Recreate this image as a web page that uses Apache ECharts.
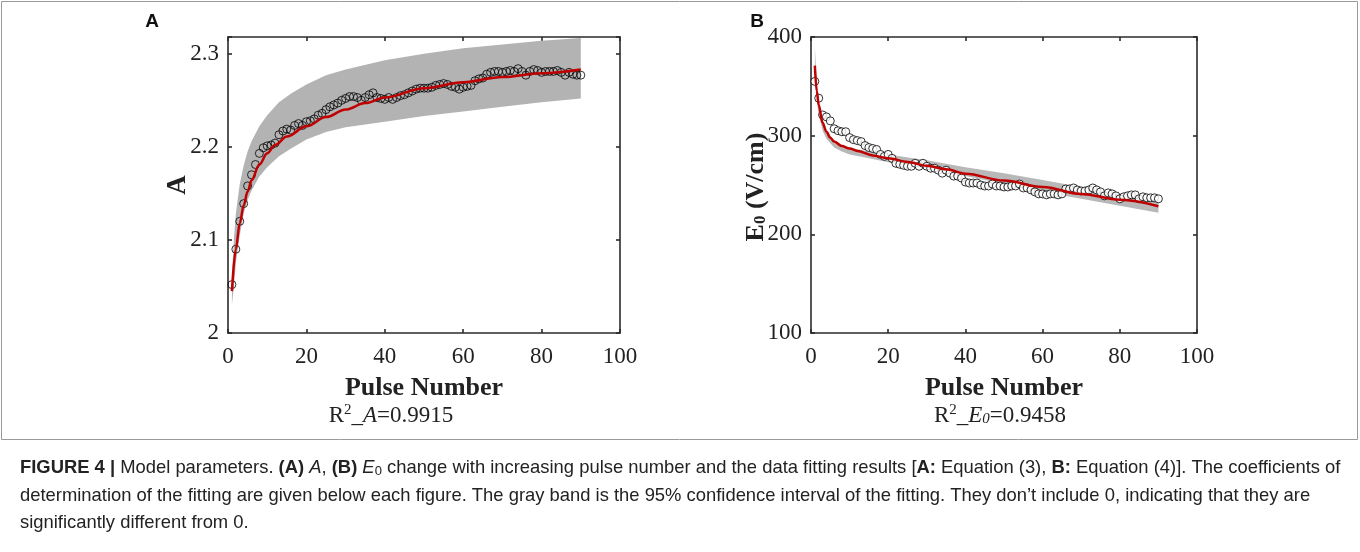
<!DOCTYPE html>
<html>
<head>
<meta charset="utf-8">
<script src="https://cdn.jsdelivr.net/npm/echarts@6/dist/echarts.min.js"></script>
<style>
html,body{margin:0;padding:0;background:#fff;}
#c{width:1360px;height:552px;}
</style>
</head>
<body>
<div id="c"></div>
<script>
// ---------- Panel A data ----------
const aValues = [
 2.052,2.090,2.120,2.139,2.158,2.170,2.181,2.193,2.199,2.201,
 2.202,2.204,2.213,2.217,2.219,2.218,2.223,2.225,2.223,2.227,
 2.228,2.230,2.234,2.236,2.240,2.243,2.245,2.247,2.250,2.252,
 2.254,2.254,2.253,2.250,2.253,2.256,2.258,2.253,2.252,2.251,
 2.253,2.251,2.253,2.255,2.256,2.258,2.260,2.262,2.263,2.263,
 2.263,2.264,2.266,2.267,2.268,2.267,2.265,2.264,2.262,2.264,
 2.265,2.266,2.271,2.273,2.274,2.278,2.280,2.281,2.281,2.280,
 2.281,2.282,2.281,2.284,2.281,2.277,2.281,2.283,2.282,2.280,
 2.281,2.281,2.281,2.282,2.280,2.277,2.280,2.278,2.277,2.277
];
const aFitX = [1,2,3,4,5,6,8,10,12,15,20,25,30,35,40,50,60,70,80,90];
const aFitY = [2.045,2.090,2.118,2.137,2.152,2.164,2.181,2.193,2.202,2.211,2.222,2.232,2.240,2.247,2.253,2.263,2.2695,2.275,2.279,2.283];
const aBandX = [1,1.5,2,3,4,5,6,8,10,13,16,20,25,30,40,50,60,70,80,90];
const aBandUpper = [2.062,2.100,2.128,2.160,2.180,2.195,2.206,2.222,2.234,2.248,2.257,2.267,2.277,2.283,2.293,2.300,2.306,2.310,2.314,2.317];
const aBandLower = [2.030,2.050,2.075,2.105,2.128,2.143,2.153,2.168,2.178,2.190,2.198,2.208,2.216,2.221,2.227,2.233,2.238,2.243,2.248,2.252];

// ---------- Panel B data ----------
const bValues = [
 355,338,321,319,315,307,305,304,304,298,
 296,295,294,290,288,287,286,281,279,281,
 277,272,271,270,269,269,272,269,272,269,
 267,267,265,262,265,262,259,259,257,253,
 252,252,252,250,249,249,251,249,249,248,
 248,249,249,251,247,247,245,243,241,241,
 240,241,241,240,241,246,246,247,245,244,
 244,245,247,245,243,239,242,241,239,236,
 238,239,240,240,236,238,237,237,237,236
];
const bFitX = [1,1.5,2,3,4,5,6,8,10,12,16,20,25,30,35,40,50,60,70,80,90];
const bFitY = [371,345,331,313,304,298,294,289.5,287,284.5,280,277,273.4,269.5,266,261.5,254.5,248,241,235,228.5];
const bBandX = [1,1.5,2,3,4,6,8,10,15,20,30,40,50,60,70,80,90];
const bBandUpper = [390,352,335,315,305,295,290,288,284,281,275,268,262,255,248,241,235];
const bBandLower = [355,335,322,305,297,288,284,281,277,273,267,259,251,243,236,229,222];

// ---------- ticks / labels ----------
const xTicks = [0,20,40,60,80,100];
const aYTicks = [2,2.1,2.2,2.3];
const bYTicks = [100,200,300,400];

const SERIF = "'Liberation Serif','Times New Roman',serif";
const SANS = "'Liberation Sans',Arial,Helvetica,sans-serif";
const AXC = '#2b2b2b';
const TICKFS = 23;

function pairs(xs, ys){ return xs.map((x,i)=>[x, ys[i]]); }
const pulseA = aValues.map((v,i)=>[i+1, v]);
const pulseB = bValues.map((v,i)=>[i+1, v]);

function bandSeries(idx, bx, up, lo, col){
  return {
    type:'custom', xAxisIndex: idx*2, yAxisIndex: idx*2, silent:true, z:1,
    data:[[0]],
    renderItem: function(params, api){
      const pts = [];
      for (let i=0;i<bx.length;i++) pts.push(api.coord([bx[i], up[i]]));
      for (let i=bx.length-1;i>=0;i--) pts.push(api.coord([bx[i], lo[i]]));
      return {type:'polygon', shape:{points:pts}, style:{fill:col, stroke:null}};
    }
  };
}

function xAxes(grid){
  const common = {
    type:'value', gridIndex:grid, min:0, max:100, interval:20,
    axisLine:{show:true, onZero:false, lineStyle:{color:AXC, width:1.6}},
    axisTick:{show:true, inside:true, length:4, lineStyle:{color:AXC, width:1.6}},
    splitLine:{show:false}
  };
  return [
    Object.assign({}, common, {position:'bottom',
      axisLabel:{show:true, margin:12, fontFamily:SERIF, fontSize:TICKFS, color:'#222',
        formatter:function(v){ return xTicks.indexOf(v) >= 0 ? String(v) : ''; }},
      name:'Pulse Number', nameLocation:'middle', nameGap:42,
      nameTextStyle:{fontFamily:SERIF, fontSize:26, fontWeight:'bold', color:'#222'}}),
    Object.assign({}, common, {position:'top', axisLabel:{show:false}})
  ];
}
function yAxes(grid, min, max, interval, ticks, fmt){
  const common = {
    type:'value', gridIndex:grid, min:min, max:max, interval:interval,
    axisLine:{show:true, onZero:false, lineStyle:{color:AXC, width:1.6}},
    axisTick:{show:true, inside:true, length:4, lineStyle:{color:AXC, width:1.6}},
    splitLine:{show:false}
  };
  return [
    Object.assign({}, common, {position:'left',
      axisLabel:{show:true, margin:9, fontFamily:SERIF, fontSize:TICKFS, color:'#222',
        formatter:function(v){
          for (const t of ticks){ if (Math.abs(v-t) < 1e-6) return fmt(t); }
          return '';
        }}}),
    Object.assign({}, common, {position:'right', axisLabel:{show:false}})
  ];
}

const CAPFS = 18.4;
const capRich = {
  b:{font:"bold "+CAPFS+"px "+SANS, fill:'#222'},
  i:{font:"italic "+CAPFS+"px "+SANS, fill:'#222'},
  s:{font:"13px "+SANS, fill:'#222', verticalAlign:'bottom', lineHeight:20}
};

const option = {
  animation:false,
  backgroundColor:'#fff',
  grid:[
    {left:228, top:37, width:392, height:296},
    {left:811, top:37, width:386, height:296}
  ],
  xAxis:[...xAxes(0), ...xAxes(1)],
  yAxis:[
    ...yAxes(0, 2, 2.318, 0.1, aYTicks, t=>String(t)),
    ...yAxes(1, 100, 400, 100, bYTicks, t=>String(t))
  ],
  series:[
    bandSeries(0, aBandX, aBandUpper, aBandLower, '#b3b3b3'),
    {type:'scatter', xAxisIndex:0, yAxisIndex:0, z:2, data:pulseA, symbol:'circle', symbolSize:8,
      itemStyle:{color:'rgba(0,0,0,0)', borderColor:'#000', borderWidth:1}},
    {type:'line', xAxisIndex:0, yAxisIndex:0, z:3, data:pairs(aFitX, aFitY), symbol:'none',
      smooth:0.35, smoothMonotone:'x', lineStyle:{color:'#c00000', width:2.5}},
    bandSeries(1, bBandX, bBandUpper, bBandLower, '#b8b8b8'),
    {type:'scatter', xAxisIndex:2, yAxisIndex:2, z:2, data:pulseB, symbol:'circle', symbolSize:8,
      itemStyle:{color:'#fff', borderColor:'#000', borderWidth:1}},
    {type:'line', xAxisIndex:2, yAxisIndex:2, z:3, data:pairs(bFitX, bFitY), symbol:'none',
      smooth:0.35, smoothMonotone:'x', lineStyle:{color:'#c00000', width:2.5}}
  ],
  graphic:[
    {type:'rect', shape:{x:1.5, y:1.5, width:1356, height:438}, style:{fill:null, stroke:'#9a9a9a', lineWidth:1}, silent:true},
    {type:'text', x:152, y:22, style:{text:'A', font:"bold 19px "+SANS, fill:'#111', align:'center', verticalAlign:'middle'}},
    {type:'text', x:757, y:22, style:{text:'B', font:"bold 19px "+SANS, fill:'#111', align:'center', verticalAlign:'middle'}},
    {type:'text', x:178, y:185, rotation:Math.PI/2, style:{text:'A', font:"bold 27px "+SERIF, fill:'#222', align:'center', verticalAlign:'middle'}},
    {type:'text', x:755, y:187, rotation:Math.PI/2, style:{
      text:'{b|E}{s|0}{b| (V/cm)}', align:'center', verticalAlign:'middle',
      rich:{b:{font:"bold 26px "+SERIF, fill:'#222', lineHeight:28, verticalAlign:'bottom'},
            s:{font:"bold 17px "+SERIF, fill:'#222', lineHeight:28, verticalAlign:'bottom'}}}},
    {type:'text', x:391, y:415, style:{
      text:'{n|R}{p|2}{n|_}{i|A}{n|=0.9915}', align:'center', verticalAlign:'middle',
      rich:{n:{font:"23px "+SERIF, fill:'#222', lineHeight:24, verticalAlign:'bottom'},
            i:{font:"italic 23px "+SERIF, fill:'#222', lineHeight:24, verticalAlign:'bottom'},
            p:{font:"15px "+SERIF, fill:'#222', lineHeight:22, verticalAlign:'top'}}}},
    {type:'text', x:1000, y:415, style:{
      text:'{n|R}{p|2}{n|_}{i|E}{s|0}{n|=0.9458}', align:'center', verticalAlign:'middle',
      rich:{n:{font:"23px "+SERIF, fill:'#222', lineHeight:24, verticalAlign:'bottom'},
            i:{font:"italic 23px "+SERIF, fill:'#222', lineHeight:24, verticalAlign:'bottom'},
            s:{font:"italic 15px "+SERIF, fill:'#222', lineHeight:20, verticalAlign:'bottom'},
            p:{font:"15px "+SERIF, fill:'#222', lineHeight:22, verticalAlign:'top'}}}},
    {type:'text', x:20, y:468, style:{
      text:'{b|FIGURE 4 |} Model parameters. {b|(A)} {i|A}, {b|(B)} {i|E}{s|0} change with increasing pulse number and the data fitting results [{b|A:} Equation (3), {b|B:} Equation (4)]. The coefficients of',
      font:CAPFS+"px "+SANS, fill:'#222', align:'left', verticalAlign:'middle', rich:capRich}},
    {type:'text', x:20, y:496, style:{
      text:'determination of the fitting are given below each figure. The gray band is the 95% confidence interval of the fitting. They don\u2019t include 0, indicating that they are',
      font:CAPFS+"px "+SANS, fill:'#222', align:'left', verticalAlign:'middle'}},
    {type:'text', x:20, y:523, style:{
      text:'significantly different from 0.',
      font:CAPFS+"px "+SANS, fill:'#222', align:'left', verticalAlign:'middle'}}
  ]
};
const chart = echarts.init(document.getElementById('c'), null, {renderer:'canvas'});
chart.setOption(option);
</script>
</body>
</html>
